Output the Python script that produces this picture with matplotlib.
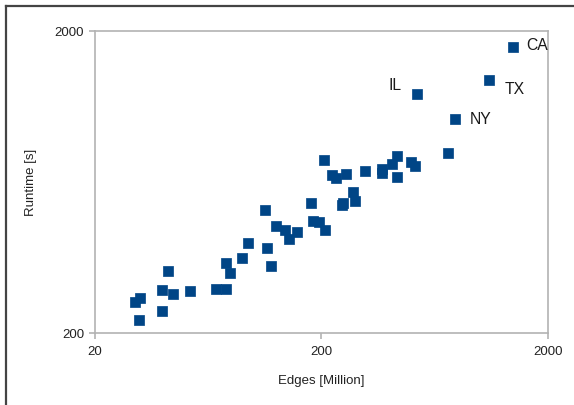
import matplotlib
matplotlib.use("Agg")
import matplotlib.pyplot as plt
from matplotlib.lines import Line2D
from matplotlib.ticker import FixedLocator, FixedFormatter, NullLocator

plt.rcParams['font.family'] = ['Liberation Sans', 'DejaVu Sans']

# Graph size (edges, millions) vs. runtime (seconds), one point per region
edges_million = [
    30.1, 31.7, 31.4, 39.8, 39.8, 42.0, 44.2, 52.7, 68.6, 76.0,
    76.0, 79.1, 89.4, 95.0, 113.0, 115.3, 119.7, 126.9, 138.4, 144.6,
    155.8, 180.9, 183.6, 196.4, 208.3, 205.8, 222.8, 232.0, 257.4, 246.2,
    249.6, 277.6, 282.0, 312.2, 369.2, 370.0, 409.2, 433.0, 432.2, 498.4,
    519.0, 529.8, 725.8, 779.2, 1104.6, 1399.6,
]
runtime_s = [
    252.8, 261.8, 221.6, 278.6, 236.6, 320.8, 268.6, 276.2, 279.7, 279.7,
    341.8, 316.0, 353.6, 396.5, 511.0, 381.6, 332.7, 452.4, 437.6, 411.0,
    433.0, 539.0, 469.8, 467.2, 439.8, 746.2, 667.2, 653.0, 670.8, 530.8,
    539.0, 586.2, 548.6, 686.2, 701.0, 677.4, 725.6, 772.8, 658.6, 736.8,
    711.8, 1237.0, 787.2, 1020.0, 1376.0, 1763.8,
]

# Named regions: (label, edges, runtime, pixel offset, horizontal alignment)
region_names = ["IL", "NY", "TX", "CA"]
region_edges = [529.8, 779.2, 1104.6, 1399.6]
region_runtime = [1237.0, 1020.0, 1376.0, 1763.8]
label_offsets = [(-15, 9), (15, 0), (15, -9), (14, 2)]
label_align = ["right", "left", "left", "left"]

x_ticks = [20, 200, 2000]
y_ticks = [200, 2000]

fig = plt.figure(figsize=(5.74, 4.05), dpi=100)
ax = fig.add_axes([94.7 / 574, 72 / 405, 453 / 574, 302 / 405])

ax.scatter(edges_million, runtime_s, marker='s', s=62, color='#004586',
           edgecolors='#004586', linewidths=0.5, zorder=3)

for name, xe, yr, off, ha in zip(region_names, region_edges, region_runtime,
                                 label_offsets, label_align):
    ax.annotate(name, (xe, yr), xytext=off, textcoords='offset pixels',
                ha=ha, va='center', fontsize=11.3, color='#1a1a1a')

ax.set_xscale('log')
ax.set_yscale('log')
ax.set_xlim(20, 2000)
ax.set_ylim(200, 2000)

ax.xaxis.set_major_locator(FixedLocator(x_ticks))
ax.xaxis.set_major_formatter(FixedFormatter([str(v) for v in x_ticks]))
ax.yaxis.set_major_locator(FixedLocator(y_ticks))
ax.yaxis.set_major_formatter(FixedFormatter([str(v) for v in y_ticks]))
ax.xaxis.set_minor_locator(NullLocator())
ax.yaxis.set_minor_locator(NullLocator())

grey = '#b3b3b3'
for sp in ax.spines.values():
    sp.set_color(grey)
    sp.set_linewidth(1.2)
ax.tick_params(axis='both', which='major', direction='out', length=4.5,
               width=1.2, color=grey, labelsize=9.5, labelcolor='#222222',
               pad=3)
ax.tick_params(axis='x', pad=5)

ax.set_xlabel('Edges [Million]', fontsize=9.5, color='#222222', labelpad=12)
ax.set_ylabel('Runtime [s]', fontsize=9.5, color='#222222', labelpad=13)

# Outer frame along the left and top edges of the figure
fx = 6 / 574
fy = 1 - 6 / 405
fig.add_artist(Line2D([fx, fx], [0, fy], transform=fig.transFigure,
                      color='#444444', linewidth=1.6))
fig.add_artist(Line2D([fx, 1], [fy, fy], transform=fig.transFigure,
                      color='#444444', linewidth=1.6))

fig.savefig('out.png', dpi=100)
